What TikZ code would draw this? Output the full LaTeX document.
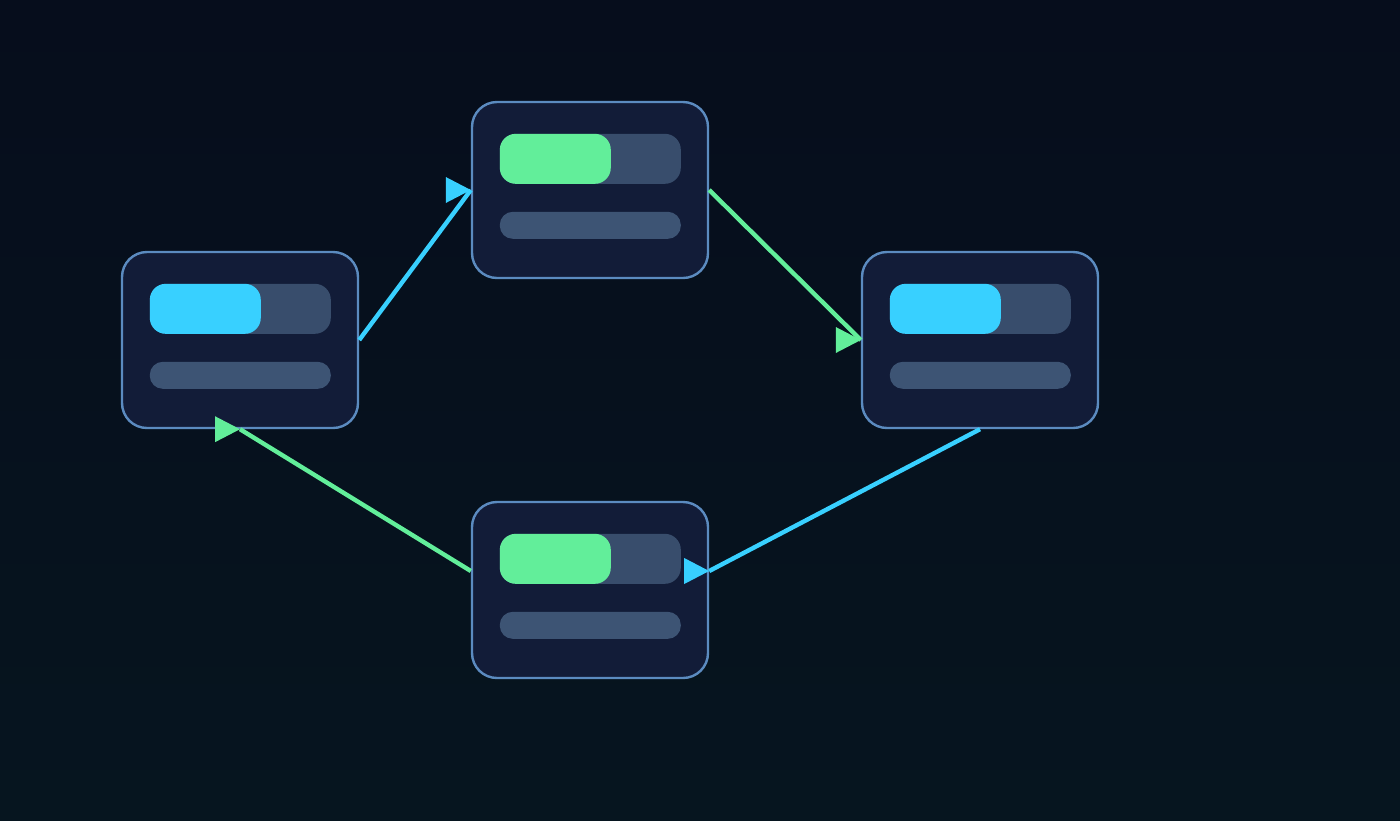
\documentclass[tikz,border=0pt]{standalone}
\definecolor{bgtop}{HTML}{060D1C}
\definecolor{bgbot}{HTML}{06151F}
\definecolor{boxfill}{HTML}{121C38}
\definecolor{boxline}{HTML}{5B8BC0}
\definecolor{track}{HTML}{384D6C}
\definecolor{lowbar}{HTML}{3D5474}
\definecolor{cyanc}{HTML}{38D0FF}
\definecolor{greenc}{HTML}{62EE9A}
\tikzset{
 card/.style={draw=boxline,fill=boxfill,line width=1.2pt,rounded corners=12.5pt,minimum width=118pt,minimum height=88pt,inner sep=0pt},
 link/.style={line width=2.2pt}
}
\newcommand{\cardbars}[2]{%
 \fill[track,rounded corners=8pt] ([shift={(14.5pt,-16.5pt)}]#1.north west) rectangle ++(90.5pt,-25pt);
 \fill[#2,rounded corners=8pt] ([shift={(14.5pt,-16.5pt)}]#1.north west) rectangle ++(55.5pt,-25pt);
 \fill[lowbar,rounded corners=6.5pt] ([shift={(14.5pt,-55.5pt)}]#1.north west) rectangle ++(90.5pt,-13.5pt);
}
\newcommand{\tipat}[2]{\fill[#2] (#1) -- ++(-25,-13) -- ++(0,26) -- cycle;}
\begin{document}
\begin{tikzpicture}[x=0.5pt,y=-0.5pt]
\shade[top color=bgtop,bottom color=bgbot] (0,0) rectangle (1400,820);
\useasboundingbox (0,0) rectangle (1400,820);
\node[card] (A) at (240,340) {};
\node[card] (B) at (590,190) {};
\node[card] (C) at (980,340) {};
\node[card] (D) at (590,590) {};
\cardbars{A}{cyanc}
\cardbars{B}{greenc}
\cardbars{C}{cyanc}
\cardbars{D}{greenc}
\coordinate (De) at ([yshift=9.5pt]D.east);
\coordinate (Dw) at ([yshift=9.5pt]D.west);
\draw[link,cyanc] (A.east) -- (B.west);
\draw[link,greenc] (B.east) -- (C.west);
\draw[link,cyanc] (C.south) -- (De);
\draw[link,greenc] (Dw) -- (A.south);
\tipat{B.west}{cyanc}
\tipat{C.west}{greenc}
\tipat{De}{cyanc}
\tipat{A.south}{greenc}
\end{tikzpicture}
\end{document}
